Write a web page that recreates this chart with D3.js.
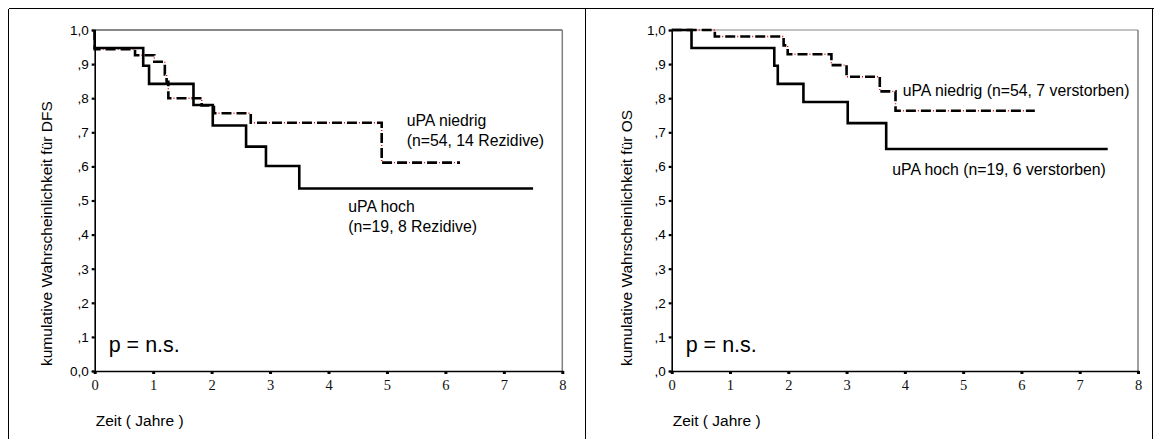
<!DOCTYPE html>
<html>
<head>
<meta charset="utf-8">
<script src="https://cdn.jsdelivr.net/npm/d3@7"></script>
<style>
  html, body { margin: 0; padding: 0; background: #fff; }
  svg { display: block; }
</style>
</head>
<body>
<svg id="chart" width="1154" height="439"></svg>
<script>
// Kaplan-Meier step data: event times (years) and survival after each step.
// Each curve starts at (0, 1.0); the last entry marks the end of follow-up.
const dfsHochTime   = [0, 0.83, 0.93, 1.69, 2.02, 2.59, 2.93, 3.50, 7.50];
const dfsHochSurv   = [0.947, 0.895, 0.842, 0.780, 0.720, 0.658, 0.601, 0.535, 0.535];
const dfsNiedrigTime = [0, 0.69, 1.02, 1.20, 1.23, 1.26, 1.83, 2.04, 2.67, 4.91, 6.25];
const dfsNiedrigSurv = [0.944, 0.926, 0.907, 0.870, 0.848, 0.800, 0.779, 0.756, 0.728, 0.611, 0.611];

const osHochTime    = [0.34, 1.76, 1.82, 2.26, 3.02, 3.68, 7.48];
const osHochSurv    = [0.947, 0.895, 0.842, 0.789, 0.727, 0.651, 0.651];
const osNiedrigTime = [0.74, 1.92, 1.99, 2.74, 3.00, 3.57, 3.84, 6.23];
const osNiedrigSurv = [0.981, 0.955, 0.929, 0.897, 0.863, 0.820, 0.763, 0.763];

const xTickValues = [0, 1, 2, 3, 4, 5, 6, 7, 8];
const yTickValues = [0, 0.1, 0.2, 0.3, 0.4, 0.5, 0.6, 0.7, 0.8, 0.9, 1.0];
const yTickLabelsDFS = ["0,0", ",1", ",2", ",3", ",4", ",5", ",6", ",7", ",8", ",9", "1,0"];
const yTickLabelsOS  = [",0", ",1", ",2", ",3", ",4", ",5", ",6", ",7", ",8", ",9", "1,0"];

const SANS = "'Liberation Sans', Arial, sans-serif";
const SERIF = "'Liberation Serif', 'Times New Roman', serif";

const svg = d3.select("#chart");

// Outer table frame with a divider between the two panels
const frame = svg.append("g").attr("shape-rendering", "crispEdges");
frame.append("line").attr("x1", 8.5).attr("x2", 1153.5).attr("y1", 8.5).attr("y2", 8.5).attr("stroke", "#000");
frame.append("line").attr("x1", 8.5).attr("x2", 8.5).attr("y1", 8.5).attr("y2", 439).attr("stroke", "#000");
frame.append("line").attr("x1", 585.5).attr("x2", 585.5).attr("y1", 8.5).attr("y2", 439).attr("stroke", "#000");
frame.append("line").attr("x1", 1152.5).attr("x2", 1152.5).attr("y1", 8.5).attr("y2", 439).attr("stroke", "#000");

function toPoints(times, surv) {
  const pts = [[0, 1.0]];
  times.forEach((t, i) => pts.push([t, surv[i]]));
  return pts;
}

function drawPanel(cfg) {
  const x = d3.scaleLinear().domain([0, 8]).range([cfg.left, cfg.right]);
  const y = d3.scaleLinear().domain([0, 1]).range([cfg.bottom, cfg.top]);
  const g = svg.append("g");

  // plot frame: top and right edges
  g.append("line").attr("x1", cfg.left).attr("x2", cfg.right)
    .attr("y1", cfg.top).attr("y2", cfg.top)
    .attr("stroke", cfg.topColor).attr("stroke-width", 1.2);
  g.append("line").attr("x1", cfg.right).attr("x2", cfg.right)
    .attr("y1", cfg.top).attr("y2", cfg.bottom)
    .attr("stroke", "#808080").attr("stroke-width", 1.5);

  // y axis
  const yAxis = d3.axisLeft(y).tickValues(yTickValues)
    .tickFormat((d, i) => cfg.yLabels[i]).tickSize(3).tickPadding(3);
  const ya = g.append("g").attr("transform", `translate(${cfg.left},0)`).call(yAxis);
  ya.select(".domain").attr("stroke", "#000").attr("stroke-width", 1.6);
  ya.selectAll(".tick line").attr("stroke", "#000").attr("stroke-width", 2.2);
  ya.selectAll(".tick text").attr("font-family", SANS).attr("font-size", 13.5).attr("fill", "#000");

  // x axis: tick marks below the baseline
  const xAxis = d3.axisBottom(x).tickValues(xTickValues).tickSize(3).tickPadding(6)
    .tickFormat(d3.format("d"));
  const xa = g.append("g").attr("transform", `translate(0,${cfg.bottom})`).call(xAxis);
  xa.select(".domain").attr("stroke", "#000").attr("stroke-width", 1.6);
  xa.selectAll(".tick line").attr("stroke", "#000").attr("stroke-width", 3);
  xa.selectAll(".tick text").attr("font-family", SERIF).attr("font-size", 14.5).attr("fill", "#111");

  const line = d3.line().x(d => x(d[0])).y(d => y(d[1])).curve(d3.curveStepAfter);

  // low-uPA group: dashed line with red dots in the gaps
  const lowPts = toPoints(cfg.lowTime, cfg.lowSurv);
  g.append("path").datum(lowPts).attr("d", line)
    .attr("fill", "none").attr("stroke", "#000").attr("stroke-width", 2.6)
    .attr("stroke-dasharray", "10 5");
  g.append("path").datum(lowPts).attr("d", line)
    .attr("fill", "none").attr("stroke", "#e00").attr("stroke-width", 1.4)
    .attr("stroke-dasharray", "1 14").attr("stroke-dashoffset", -12);

  // high-uPA group: solid line
  g.append("path").datum(toPoints(cfg.highTime, cfg.highSurv)).attr("d", line)
    .attr("fill", "none").attr("stroke", "#000").attr("stroke-width", 2.6);

  // axis titles
  g.append("text")
    .attr("transform", `translate(${cfg.yTitleX},${cfg.yTitleY}) rotate(-90)`)
    .attr("font-family", SANS).attr("font-size", 15.5).attr("fill", "#000")
    .text(cfg.yTitle);
  g.append("text").attr("x", cfg.left + 1).attr("y", 426)
    .attr("font-family", SANS).attr("font-size", 15.5).attr("fill", "#000")
    .text("Zeit ( Jahre )");

  // p-value
  g.append("text").attr("x", cfg.left + 14).attr("y", 352)
    .attr("font-family", SANS).attr("font-size", 21.5).attr("fill", "#000")
    .text("p = n.s.");

  // group annotations
  cfg.notes.forEach(n => {
    g.append("text").attr("x", n.x).attr("y", n.y)
      .attr("font-family", SANS).attr("font-size", 15.8).attr("fill", "#000")
      .text(n.text);
  });
}

drawPanel({
  left: 94.7, right: 562.3, top: 30, bottom: 371,
  topColor: "#111",
  yLabels: yTickLabelsDFS,
  yTitle: "kumulative Wahrscheinlichkeit für DFS",
  yTitleX: 52, yTitleY: 366,
  highTime: dfsHochTime, highSurv: dfsHochSurv,
  lowTime: dfsNiedrigTime, lowSurv: dfsNiedrigSurv,
  notes: [
    { x: 406.7, y: 125.5, text: "uPA niedrig" },
    { x: 406.7, y: 145.5, text: "(n=54, 14 Rezidive)" },
    { x: 348.3, y: 212, text: "uPA hoch" },
    { x: 348.3, y: 231.5, text: "(n=19, 8 Rezidive)" }
  ]
});

drawPanel({
  left: 671.7, right: 1138, top: 30, bottom: 371,
  topColor: "#888",
  yLabels: yTickLabelsOS,
  yTitle: "kumulative Wahrscheinlichkeit für OS",
  yTitleX: 632, yTitleY: 366,
  highTime: osHochTime, highSurv: osHochSurv,
  lowTime: osNiedrigTime, lowSurv: osNiedrigSurv,
  notes: [
    { x: 902.7, y: 95.5, text: "uPA niedrig (n=54, 7 verstorben)" },
    { x: 892.3, y: 175, text: "uPA hoch (n=19, 6 verstorben)" }
  ]
});
</script>
</body>
</html>
